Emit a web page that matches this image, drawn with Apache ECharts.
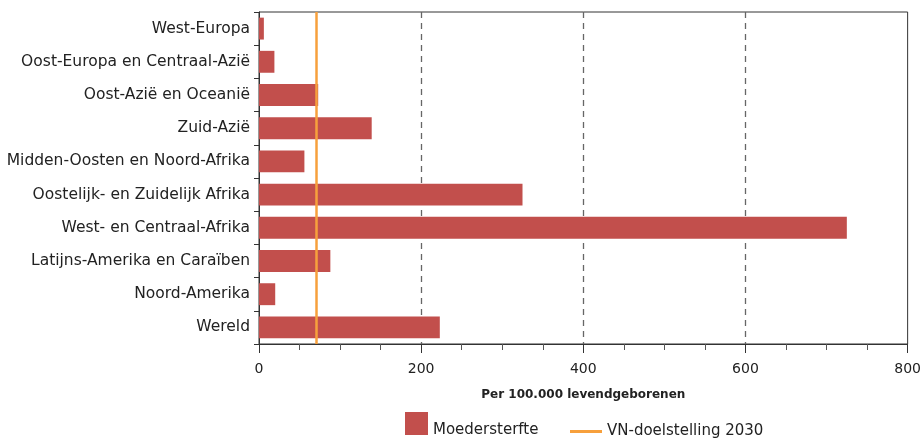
<!DOCTYPE html>
<html>
<head>
<meta charset="utf-8">
<title>Moedersterfte per regio</title>
<script src="https://cdn.jsdelivr.net/npm/echarts@6/dist/echarts.min.js"></script>
<style>
  body { margin: 0; background: #fff; }
  #chart { width: 924px; height: 440px; }
</style>
</head>
<body>
<div id="chart"></div>
<script>
// regio's, van boven naar onder
var regios = ['West-Europa', 'Oost-Europa en Centraal-Azië', 'Oost-Azië en Oceanië', 'Zuid-Azië',
  'Midden-Oosten en Noord-Afrika', 'Oostelijk- en Zuidelijk Afrika', 'West- en Centraal-Afrika',
  'Latijns-Amerika en Caraïben', 'Noord-Amerika', 'Wereld'];
var moedersterfte = [6, 19, 73, 139, 56, 325, 725, 88, 20, 223];
var doel2030 = 70;
var xTicks = [0, 200, 400, 600, 800];

var font = '"DejaVu Sans", Verdana, sans-serif';
var chart = echarts.init(document.getElementById('chart'));

var option = {
  animation: false,
  textStyle: { fontFamily: font },
  grid: {
    left: 259, right: 15, top: 12, bottom: 96,
    show: true, borderColor: '#333', borderWidth: 1
  },
  legend: [{
    data: ['Moedersterfte'],
    left: 400, top: 407,
    icon: 'rect', itemWidth: 23, itemHeight: 23,
    formatter: '{t|{name}}',
    textStyle: {
      fontFamily: font, fontSize: 15, color: '#222',
      rich: { t: { fontFamily: font, fontSize: 15, color: '#222', padding: [14, 0, 0, 0] } }
    }
  }, {
    data: ['VN-doelstelling 2030'],
    left: 565, top: 419,
    icon: 'rect', itemWidth: 32, itemHeight: 3,
    textStyle: { fontFamily: font, fontSize: 15, color: '#222' }
  }],
  xAxis: {
    type: 'value',
    min: xTicks[0], max: xTicks[xTicks.length - 1], interval: 200,
    name: 'Per 100.000 levendgeborenen',
    nameLocation: 'middle', nameGap: 45,
    nameTextStyle: { fontFamily: font, fontSize: 12, fontWeight: 'bold', color: '#222' },
    axisLine: { show: true, lineStyle: { color: '#333' } },
    axisTick: { show: true, length: 9, lineStyle: { color: '#333' } },
    minorTick: { show: true, splitNumber: 4, length: 6, lineStyle: { color: '#555' } },
    axisLabel: { fontFamily: font, fontSize: 14, color: '#222', margin: 18 },
    splitLine: {
      show: true, showMinLine: false, showMaxLine: false,
      lineStyle: { color: '#666', type: [6, 5], width: 1.3 }
    }
  },
  yAxis: {
    type: 'category',
    data: regios,
    inverse: true,
    axisLine: { show: true, lineStyle: { color: '#333' } },
    axisTick: { show: true, length: 5, lineStyle: { color: '#333' } },
    axisLabel: { fontFamily: font, fontSize: 15.5, color: '#222', margin: 9 }
  },
  series: [{
    name: 'Moedersterfte',
    type: 'bar',
    data: moedersterfte,
    barWidth: '66%',
    itemStyle: { color: '#c24f4c' }
  }, {
    name: 'VN-doelstelling 2030',
    type: 'line',
    data: [],
    symbol: 'none',
    itemStyle: { color: '#f7a03c' },
    lineStyle: { color: '#f7a03c', width: 2.5 },
    markLine: {
      silent: true,
      symbol: 'none',
      label: { show: false },
      lineStyle: { color: '#f7a03c', width: 2.5, type: 'solid' },
      data: [{ xAxis: doel2030 }]
    }
  }]
};
chart.setOption(option);
</script>
</body>
</html>
